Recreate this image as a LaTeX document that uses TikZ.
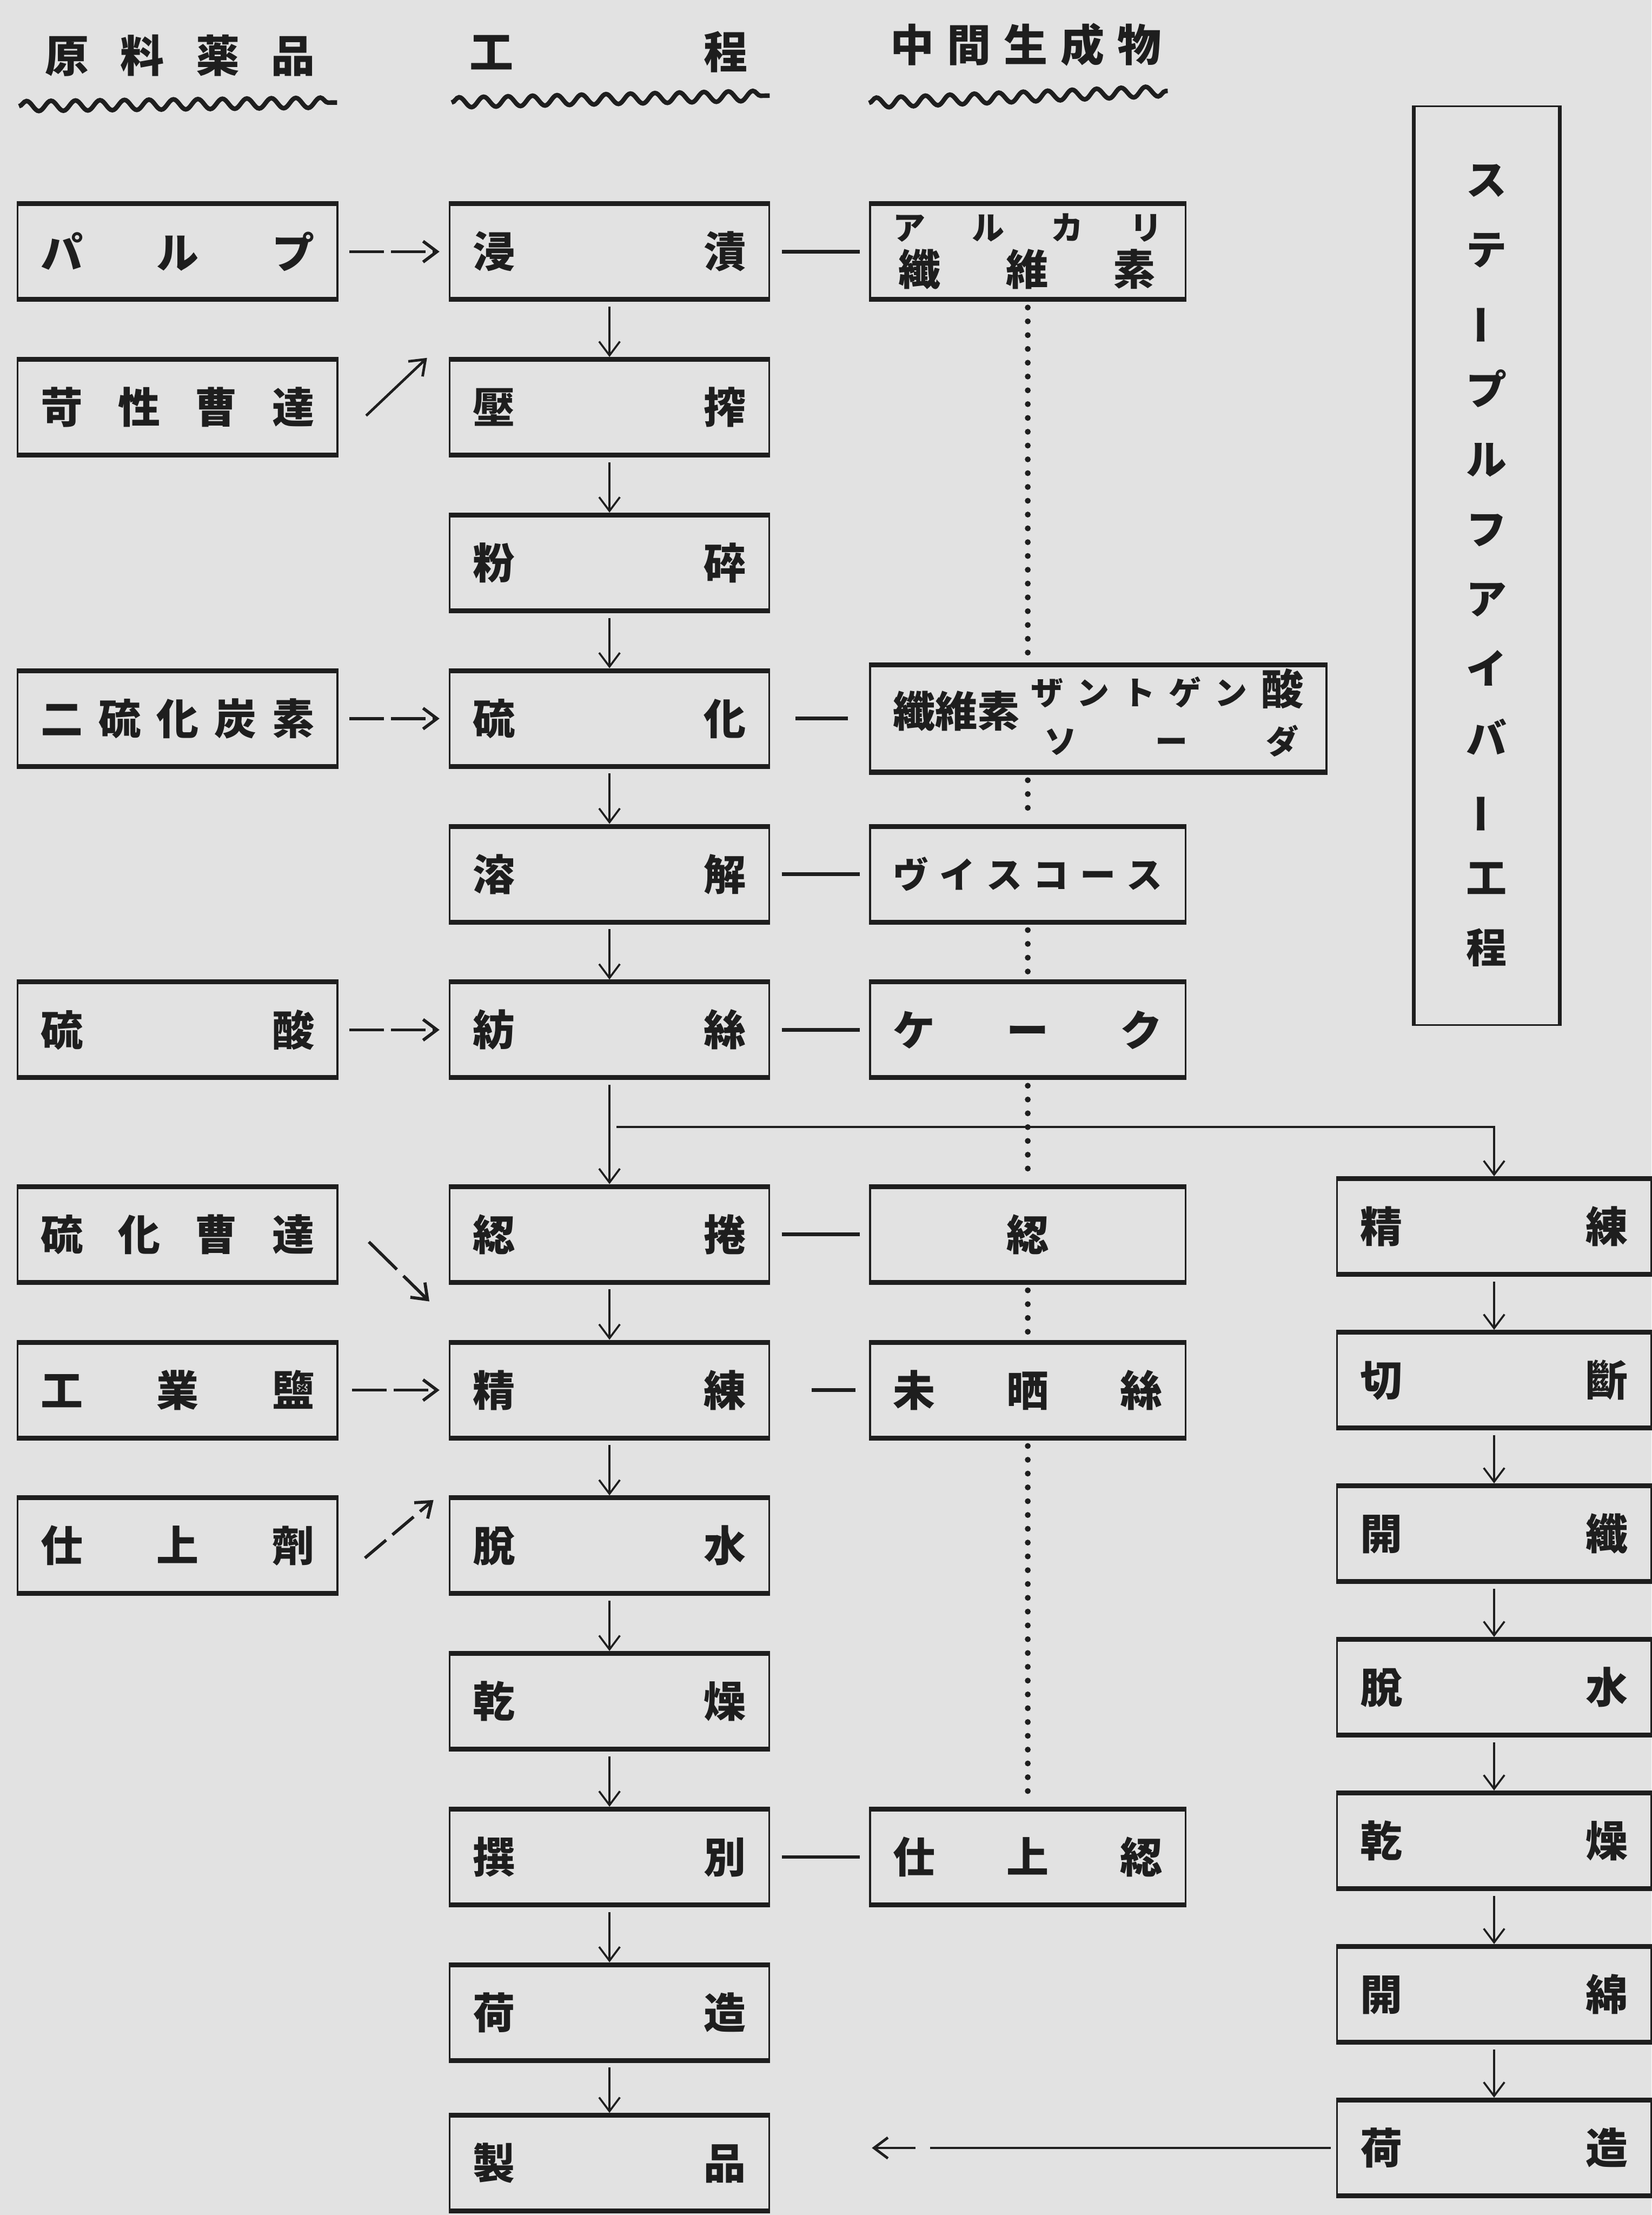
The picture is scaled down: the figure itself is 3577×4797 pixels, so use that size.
\documentclass[tikz,border=0pt]{standalone}
\usepackage{fontspec}
\setmainfont{Noto Sans CJK JP}
\usetikzlibrary{arrows.meta, positioning, decorations.pathmorphing}

\definecolor{paper}{RGB}{226,226,226}
\definecolor{ink}{RGB}{30,30,30}

\begin{document}
\begin{tikzpicture}[
  x=0.01cm, y=-0.01cm,
  node distance = 1.19cm and 2.39cm,
  box/.style    = {draw=ink, line width=1.1pt, text=ink, minimum height=2.14cm,
                   inner xsep=0.5cm, text width=5.92cm, align=left,
                   font=\fontsize{26}{28}\selectfont\bfseries,
                   path picture={\draw[ink, line width=5pt]
                     (path picture bounding box.north west) -- (path picture bounding box.north east)
                     (path picture bounding box.south west) -- (path picture bounding box.south east);}},
  mid/.style    = {box, text width=5.83cm},
  wide/.style   = {box, text width=8.88cm},
  sbox/.style   = {box, text width=5.8cm},
  tall/.style   = {draw=ink, line width=1.1pt, text=ink, minimum width=3.21cm,
                   minimum height=19.89cm, align=center,
                   font=\fontsize{25}{43}\selectfont\bfseries,
                   path picture={\draw[ink, line width=4pt]
                     (path picture bounding box.north west) -- (path picture bounding box.south west)
                     (path picture bounding box.north east) -- (path picture bounding box.south east);}},
  head/.style   = {text=ink, inner sep=0pt, align=left,
                   font=\fontsize{27}{30}\selectfont\bfseries},
  wave/.style   = {draw=ink, line width=2.8pt, decorate,
                   decoration={snake, amplitude=0.11cm, segment length=0.53cm}},
  arr/.style    = {draw=ink, line width=1.2pt, shorten <=0.1cm,
                   -{Straight Barb[length=0.3cm, width=0.45cm]}},
  feed/.style   = {arr, line width=1.9pt, dash pattern=on 0.75cm off 0.15cm},
  link/.style   = {draw=ink, line width=2.2pt, shorten <=0.25cm, shorten >=0.2cm},
  dots/.style   = {draw=ink, line width=3.6pt, line cap=round,
                   dash pattern=on 0pt off 8.5pt, shorten <=0.12cm, shorten >=0.12cm}
]
  \useasboundingbox (0,0) rectangle (3577,4797);
  \fill[paper] (0,0) rectangle (3577,4797);

  %% column heads
  \node[head, text width=5.85cm] (hraw)  at (390,120)  {原\hfill 料\hfill 薬\hfill 品};
  \node[head, text width=6.02cm] (hproc) at (1318,113) {工\hfill 程};
  \node[head, text width=5.86cm] (hmid)  at (2222,97)  {中\hfill 間\hfill 生\hfill 成\hfill 物};
  \draw[wave] (41,230) -- (730,222);
  \draw[wave] (978,222) -- (1667,207);
  \draw[wave] (1882,223) -- (2529,197);

  %% process
  \node[box] (soak) at (1320,545) {浸\hfill 漬};
  \node[box, below=of soak]     (press)    {壓\hfill 搾};
  \node[box, below=of press]    (crush)    {粉\hfill 碎};
  \node[box, below=of crush]    (xanthate) {硫\hfill 化};
  \node[box, below=of xanthate] (dissolve) {溶\hfill 解};
  \node[box, below=of dissolve] (spin)     {紡\hfill 絲};
  \node[box, below=2.25cm of spin] (reel)  {綛\hfill 捲};
  \node[box, below=of reel]     (scour)    {精\hfill 練};
  \node[box, below=of scour]    (dewater)  {脫\hfill 水};
  \node[box, below=of dewater]  (dry)      {乾\hfill 燥};
  \node[box, below=of dry]      (sort)     {撰\hfill 別};
  \node[box, below=of sort]     (pack)     {荷\hfill 造};
  \node[box, below=1.08cm of pack] (product) {製\hfill 品};

  %% raw materials
  \node[box, left=of soak]     (pulp)    {パ\hfill ル\hfill プ};
  \node[box, left=of press]    (caustic) {苛\hfill 性\hfill 曹\hfill 達};
  \node[box, left=of xanthate] (carbon)  {二\hfill 硫\hfill 化\hfill 炭\hfill 素};
  \node[box, left=of spin]     (acid)    {硫\hfill 酸};
  \node[box, left=of reel]     (sulfide) {硫\hfill 化\hfill 曹\hfill 達};
  \node[box, left=of scour]    (salt)    {工\hfill 業\hfill 鹽};
  \node[box, left=of dewater]  (finish)  {仕\hfill 上\hfill 劑};

  %% intermediates
  \node[mid,  right=2.14cm of soak]     (alkcell) {{\fontsize{20}{28}\selectfont
      ア\hfill ル\hfill カ\hfill リ}\\ \hspace*{0.12cm}纖\hfill 維\hfill 素\hspace*{0.15cm}};
  \node[wide, right=2.14cm of xanthate] (xanth)   {纖維素\hfill
      {\fontsize{20}{30}\selectfont\begin{tabular}[c]{@{}p{5.9cm}@{}}
        ザ\hfill ン\hfill ト\hfill ゲ\hfill ン\hfill{\fontsize{26}{30}\selectfont 酸}\\
        \hspace*{0.3cm}ソ\hfill ー\hfill ダ\hspace*{0.1cm}
      \end{tabular}}};
  \node[mid,  right=2.14cm of dissolve] (viscose) {{\fontsize{22}{28}\selectfont
      ヴ\hfill イ\hfill ス\hfill コ\hfill ー\hfill ス}};
  \node[mid,  right=2.14cm of spin]     (cake)    {ケ\hfill ー\hfill ク};
  \node[mid,  right=2.14cm of reel, align=center] (skein) {綛};
  \node[mid,  right=2.14cm of scour]    (greige)  {未\hfill 晒\hfill 絲};
  \node[mid,  right=2.14cm of sort]     (finskein){仕\hfill 上\hfill 綛};

  %% staple fibre line
  \node[tall] (staple) at (3220,1225) {ス\\テ\\\rotatebox[origin=c]{90}{ー}\\プ\\ル\\フ\\ア\\イ\\バ\\\rotatebox[origin=c]{90}{ー}\\工\\程};
  \node[sbox, right=3.24cm of skein, yshift=0.17cm] (sscour) {精\hfill 練};
  \node[sbox, below=1.145cm of sscour]   (scut)     {切\hfill 斷};
  \node[sbox, below=1.145cm of scut]     (sopen)    {開\hfill 纖};
  \node[sbox, below=1.145cm of sopen]    (sdewater) {脫\hfill 水};
  \node[sbox, below=1.145cm of sdewater] (sdry)     {乾\hfill 燥};
  \node[sbox, below=1.145cm of sdry]     (sfluff)   {開\hfill 綿};
  \node[sbox, below=1.145cm of sfluff]   (spack)    {荷\hfill 造};

  %% process flow
  \foreach \a/\b in {soak/press, press/crush, crush/xanthate, xanthate/dissolve,
                     dissolve/spin, spin/reel, reel/scour, scour/dewater,
                     dewater/dry, dry/sort, sort/pack, pack/product}
    \draw[arr] (\a) -- (\b);
  \foreach \a/\b in {sscour/scut, scut/sopen, sopen/sdewater,
                     sdewater/sdry, sdry/sfluff, sfluff/spack}
    \draw[arr] (\a) -- (\b);

  %% branch to staple fibre
  \path (spin.south) -- (reel.north) coordinate[pos=0.45] (fork);
  \draw[arr, shorten <=0.15cm] (fork) -| (sscour.north);
  \draw[arr, line width=1.6pt, shorten <=0.12cm, shorten >=2.2cm,
        dash pattern=on 8.67cm off 0.32cm on 3cm off 0.1cm]
       (spack.west) -- (spack.west -| product.east);

  %% materials in
  \draw[feed, shorten <=0.24cm, shorten >=0.2cm] (pulp) -- (soak);
  \draw[arr, line width=1.6pt] ([shift={(53,25)}]caustic.east) -- ([shift={(-47,2)}]press.north west);
  \draw[feed, shorten <=0.24cm, shorten >=0.2cm] (carbon) -- (xanthate);
  \draw[feed, shorten <=0.24cm, shorten >=0.2cm] (acid) -- (spin);
  \draw[feed, dash pattern=on 0.85cm off 0.2cm]
       ([shift={(59,9)}]sulfide.east) -- ([shift={(-42,36)}]reel.south west);
  \draw[feed, shorten <=0.3cm, shorten >=0.2cm] (salt) -- (scour);
  \draw[feed, dash pattern=on 0.6cm off 0.18cm]
       ([shift={(50,33)}]finish.east) -- ([shift={(-33,10)}]dewater.north west);

  %% intermediates out
  \draw[link] (soak) -- (alkcell);
  \draw[link, shorten <=0.55cm, shorten >=0.46cm] (xanthate) -- (xanth);
  \draw[link] (dissolve) -- (viscose);
  \draw[link] (spin) -- (cake);
  \draw[link] (reel) -- (skein);
  \draw[link, shorten <=0.9cm, shorten >=0.3cm] (scour) -- (greige);
  \draw[link] (sort) -- (finskein);

  \draw[dots] (alkcell.south) -- (alkcell.south |- xanth.north);
  \draw[dots] (alkcell.south |- xanth.south) -- (viscose.north);
  \draw[dots] (viscose) -- (cake);
  \draw[dots] (cake) -- (skein);
  \draw[dots] (skein) -- (greige);
  \draw[dots] (greige) -- (finskein);
\end{tikzpicture}
\end{document}
